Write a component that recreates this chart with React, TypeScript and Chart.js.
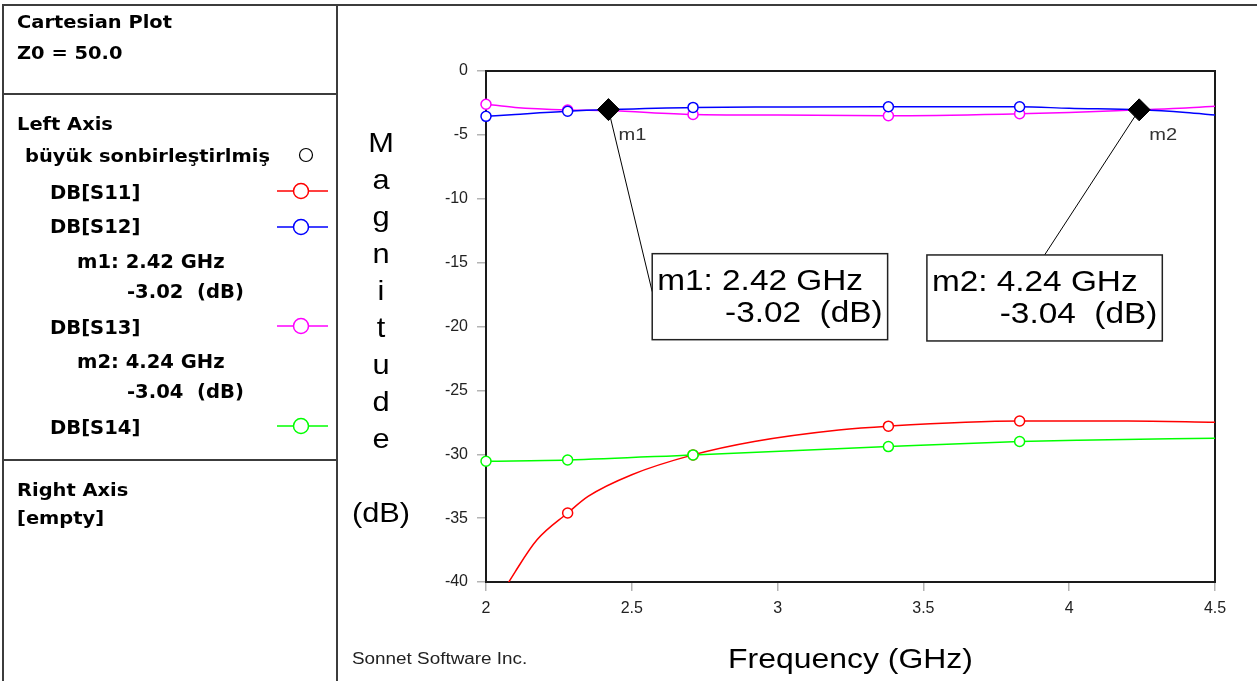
import React, { useEffect, useRef } from "react";
import { Chart, registerables } from "chart.js";

Chart.register(...registerables);

// ---------- data ----------
const X_MIN = 2;
const X_MAX = 4.5;
const X_STEP = 0.5;
const Y_MIN = -40;
const Y_MAX = 0;
const Y_STEP = 5;

const S11_FREQ = [2.0, 2.1, 2.175, 2.28, 2.35, 2.5, 2.71, 2.92, 3.21, 3.38, 3.83, 4.2, 4.5];
const S11_DB = [-43.0, -39.2, -36.7, -34.6, -33.3, -31.6, -30.05, -29.0, -28.1, -27.8, -27.4, -27.4, -27.5];

const S12_FREQ = [2.0, 2.1, 2.28, 2.42, 2.71, 3.0, 3.38, 3.83, 4.0, 4.24, 4.4, 4.5];
const S12_DB = [-3.55, -3.4, -3.15, -3.02, -2.85, -2.82, -2.8, -2.8, -2.92, -3.04, -3.25, -3.45];

const S13_FREQ = [2.0, 2.1, 2.28, 2.42, 2.71, 3.0, 3.38, 3.83, 4.0, 4.24, 4.4, 4.5];
const S13_DB = [-2.6, -2.85, -3.05, -3.1, -3.4, -3.45, -3.5, -3.35, -3.25, -3.04, -2.9, -2.75];

const S14_FREQ = [2.0, 2.28, 2.71, 3.38, 3.83, 4.03, 4.5];
const S14_DB = [-30.55, -30.45, -30.05, -29.4, -29.0, -28.9, -28.75];

const SYMBOL_FREQS = [2.0, 2.28, 2.71, 3.38, 3.83];

const MARKER_NAMES = ["m1", "m2"];
const MARKER_FREQ = [2.42, 4.24];
const MARKER_DB = [-3.02, -3.04];
// annotation box anchors (top-left corner, in data units)
const BOX_FREQ = [2.57, 3.512];
const BOX_DB = [-14.3, -14.4];

const SERIES_NAMES = ["DB[S11]", "DB[S12]", "DB[S13]", "DB[S14]"];
const SERIES_COLORS = ["#ff0000", "#0000ff", "#ff00ff", "#00ff00"];

const X_TITLE = "Frequency (GHz)";
const Y_TITLE_LINES = ["M", "a", "g", "n", "i", "t", "u", "d", "e", "", "(dB)"];
const FOOTER = "Sonnet Software Inc.";

// ---------- helpers ----------
const SANS = "'Liberation Sans', Arial, sans-serif";
const BOLD = "'DejaVu Sans', Verdana, sans-serif";
const SX = 1.18;

function txt(
  ctx: CanvasRenderingContext2D,
  s: string,
  x: number,
  y: number,
  font: string,
  align: "left" | "center" | "right" = "left",
  sx = SX,
  color = "#000"
) {
  ctx.save();
  ctx.font = font;
  ctx.fillStyle = color;
  ctx.textBaseline = "alphabetic";
  ctx.textAlign = "left";
  const w = ctx.measureText(s).width * sx;
  let x0 = x;
  if (align === "center") x0 = x - w / 2;
  else if (align === "right") x0 = x - w;
  ctx.translate(x0, y);
  ctx.scale(sx, 1);
  ctx.fillText(s, 0, 0);
  ctx.restore();
  return w;
}

function textW(ctx: CanvasRenderingContext2D, s: string, font: string, sx = SX) {
  ctx.save();
  ctx.font = font;
  const w = ctx.measureText(s).width * sx;
  ctx.restore();
  return w;
}

function line(ctx: CanvasRenderingContext2D, x1: number, y1: number, x2: number, y2: number) {
  ctx.beginPath();
  ctx.moveTo(x1, y1);
  ctx.lineTo(x2, y2);
  ctx.stroke();
}

const pts = (xs: number[], ys: number[]) => xs.map((x, i) => ({ x, y: ys[i] }));

const decorPlugin = {
  id: "sonnetDecor",
  beforeDraw(chart: any) {
    const ctx: CanvasRenderingContext2D = chart.ctx;
    const W = chart.width;
    const H = chart.height;
    ctx.save();
    ctx.fillStyle = "#fff";
    ctx.fillRect(0, 0, W, H);

    // frames
    ctx.strokeStyle = "#3c3c3c";
    ctx.lineWidth = 2;
    line(ctx, 2, 5, W, 5);
    line(ctx, 3, 5, 3, H);
    line(ctx, 337, 5, 337, H);
    line(ctx, 3, 94, 337, 94);
    line(ctx, 3, 460, 337, 460);

    const hf = `bold 18px ${BOLD}`;
    const hs = 1.08;
    const ef = `bold 19px ${BOLD}`;
    const es = 1.03;
    txt(ctx, "Cartesian Plot", 17, 28, hf, "left", hs);
    txt(ctx, "Z0 = 50.0", 17, 59, hf, "left", hs);
    txt(ctx, "Left Axis", 17, 130, hf, "left", hs);
    txt(ctx, "büyük sonbirleştirlmiş", 25, 162, hf, "left", hs);
    ctx.strokeStyle = "#000";
    ctx.lineWidth = 1.2;
    ctx.beginPath();
    ctx.arc(306, 155, 6.5, 0, Math.PI * 2);
    ctx.stroke();

    const rows = [199, 233, 334, 434];
    const lineYs = [191, 227, 326, 426];
    SERIES_NAMES.forEach((n, i) => {
      txt(ctx, n, 50, rows[i], ef, "left", es);
      ctx.strokeStyle = SERIES_COLORS[i];
      ctx.lineWidth = 1.5;
      line(ctx, 277, lineYs[i], 328, lineYs[i]);
      ctx.fillStyle = "#fff";
      ctx.beginPath();
      ctx.arc(301, lineYs[i], 7.5, 0, Math.PI * 2);
      ctx.fill();
      ctx.stroke();
    });
    // marker entries
    const mRows = [
      [268, 298],
      [368, 398],
    ];
    MARKER_NAMES.forEach((n, i) => {
      txt(ctx, `${n}: ${MARKER_FREQ[i].toFixed(2)} GHz`, 77, mRows[i][0], ef, "left", es);
      txt(ctx, `${MARKER_DB[i].toFixed(2)}  (dB)`, 127, mRows[i][1], ef, "left", es);
    });
    txt(ctx, "Right Axis", 17, 496, hf, "left", hs);
    txt(ctx, "[empty]", 17, 524, hf, "left", hs);
    ctx.restore();
  },
  beforeDatasetsDraw(chart: any) {
    const ctx: CanvasRenderingContext2D = chart.ctx;
    const a = chart.chartArea;
    ctx.save();
    ctx.strokeStyle = "#1a1a1a";
    ctx.lineWidth = 2;
    ctx.strokeRect(a.left, a.top, a.right - a.left, a.bottom - a.top);
    ctx.restore();
  },
  afterDraw(chart: any) {
    const ctx: CanvasRenderingContext2D = chart.ctx;
    const a = chart.chartArea;
    const xs = chart.scales.x;
    const ys = chart.scales.y;
    ctx.save();

    // y title, stacked letters
    const yf = `28px ${SANS}`;
    Y_TITLE_LINES.forEach((s, i) => {
      if (s) txt(ctx, s, 381, 152 + i * 37, yf, "center", 1.1);
    });
    // x title
    txt(ctx, X_TITLE, (a.left + a.right) / 2, 668, `28px ${SANS}`, "center", 1.14);
    // footer
    txt(ctx, FOOTER, 352, 664, `16px ${SANS}`, "left", SX, "#222");

    // marker labels, leaders and boxes
    const bf = `29px ${SANS}`;
    const bs = 1.15;
    MARKER_NAMES.forEach((n, i) => {
      const px = xs.getPixelForValue(MARKER_FREQ[i]);
      const py = ys.getPixelForValue(MARKER_DB[i]);
      txt(ctx, n, px + 10, py + 30, `17px ${SANS}`, "left", SX, "#333");

      const l1 = `${n}: ${MARKER_FREQ[i].toFixed(2)} GHz`;
      const l2 = `${MARKER_DB[i].toFixed(2)}  (dB)`;
      const bx = xs.getPixelForValue(BOX_FREQ[i]);
      const by = ys.getPixelForValue(BOX_DB[i]);
      const tx = bx + 5;
      const off = textW(ctx, `${n}: `, bf, bs) + 3;
      const w2 = textW(ctx, l2, bf, bs);
      const w1 = textW(ctx, l1, bf, bs);
      const bw = Math.max(off + w2, w1) + 10;
      const bh = 86;
      // leader
      ctx.strokeStyle = "#000";
      ctx.lineWidth = 1;
      let ex: number, ey: number;
      if (px < bx) {
        ex = bx;
        ey = by + 38;
      } else {
        ex = bx + bw / 2;
        ey = by;
      }
      line(ctx, px, py, ex, ey);
      ctx.fillStyle = "#fff";
      ctx.fillRect(bx, by, bw, bh);
      ctx.strokeStyle = "#222";
      ctx.lineWidth = 1.5;
      ctx.strokeRect(bx, by, bw, bh);
      txt(ctx, l1, tx, by + 36, bf, "left", bs);
      txt(ctx, l2, tx + off, by + 68, bf, "left", bs);
    });
    ctx.restore();
  },
};

export default function App() {
  const ref = useRef<HTMLCanvasElement | null>(null);

  useEffect(() => {
    if (!ref.current) return;
    const symbolRadius = (ctx: any) => {
      const r = ctx.raw;
      return r && SYMBOL_FREQS.some((f) => Math.abs(f - r.x) < 1e-9) ? 5 : 0;
    };
    const mkSeries = (label: string, xsArr: number[], ysArr: number[], color: string) => ({
      label,
      data: pts(xsArr, ysArr),
      borderColor: color,
      backgroundColor: "#fff",
      borderWidth: 1.5,
      pointRadius: symbolRadius,
      pointBorderWidth: 1.5,
      pointBorderColor: color,
      pointBackgroundColor: "#fff",
      cubicInterpolationMode: "monotone" as const,
      clip: { left: 6, right: 6, top: 6, bottom: 0 },
    });

    const chart = new Chart(ref.current, {
      type: "line",
      data: {
        datasets: [
          {
            label: "markers",
            data: pts(MARKER_FREQ, MARKER_DB),
            showLine: false,
            pointStyle: "rectRot",
            pointRadius: 11,
            pointBackgroundColor: "#000",
            pointBorderColor: "#000",
            borderColor: "#000",
            backgroundColor: "#000",
            clip: false,
          } as any,
          mkSeries(SERIES_NAMES[1], S12_FREQ, S12_DB, SERIES_COLORS[1]),
          mkSeries(SERIES_NAMES[2], S13_FREQ, S13_DB, SERIES_COLORS[2]),
          mkSeries(SERIES_NAMES[3], S14_FREQ, S14_DB, SERIES_COLORS[3]),
          mkSeries(SERIES_NAMES[0], S11_FREQ, S11_DB, SERIES_COLORS[0]),
        ],
      },
      options: {
        responsive: false,
        animation: false,
        events: [],
        layout: { padding: { left: 340, top: 71, right: 42, bottom: 0 } },
        plugins: { legend: { display: false }, tooltip: { enabled: false }, title: { display: false } },
        scales: {
          x: {
            type: "linear",
            min: X_MIN,
            max: X_MAX,
            border: { display: false },
            grid: { display: true, drawOnChartArea: false, drawTicks: true, tickLength: 9, color: "#b4b4b4", lineWidth: 1.5 },
            ticks: {
              stepSize: X_STEP,
              padding: 8,
              color: "#222",
              font: { family: SANS, size: 16 },
              maxRotation: 0,
              callback: (v: any) => String(v),
            },
            afterFit: (s: any) => {
              s.height = 99;
            },
          },
          y: {
            type: "linear",
            min: Y_MIN,
            max: Y_MAX,
            border: { display: false },
            grid: { display: true, drawOnChartArea: false, drawTicks: true, tickLength: 9, color: "#b4b4b4", lineWidth: 1.5 },
            ticks: {
              stepSize: Y_STEP,
              padding: 9,
              color: "#222",
              font: { family: SANS, size: 16 },
              callback: (v: any) => String(v),
            },
            afterFit: (s: any) => {
              s.width = 146;
            },
          },
        },
      },
      plugins: [decorPlugin],
    });
    return () => chart.destroy();
  }, []);

  return (
    <div style={{ position: "fixed", left: 0, top: 0, width: 1257, height: 681, background: "#fff" }}>
      <canvas ref={ref} width={1257} height={681} style={{ width: 1257, height: 681, display: "block" }} />
    </div>
  );
}
